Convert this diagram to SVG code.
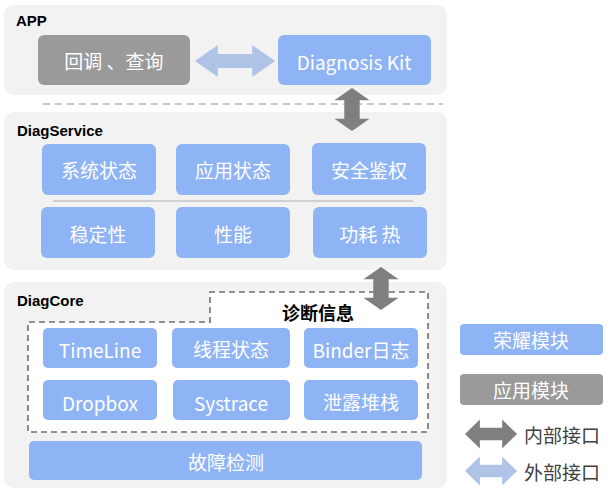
<svg xmlns="http://www.w3.org/2000/svg" width="610" height="492" viewBox="0 0 610 492">
<style>
.panel{fill:#f2f2f2}
.b{fill:#8fb4f5}
.g{fill:#9a9a9a}
.t{font-family:"Noto Sans CJK SC","Liberation Sans",sans-serif;font-size:19px;fill:#fff;text-anchor:middle;dominant-baseline:central}
.h{font-family:"Liberation Sans","Noto Sans CJK SC",sans-serif;font-size:15px;font-weight:bold;fill:#000}
.lg{font-family:"Noto Sans CJK SC",sans-serif;font-size:19px;fill:#404040;dominant-baseline:central}
</style>
<defs>
<path id="ha" d="M0,0 L16,-16 L16,-7 L40,-7 L40,-16 L56,0 L40,16 L40,7 L16,7 L16,16 Z"/>
</defs>
<rect width="610" height="492" fill="#fff"/>
<g id="app">
<rect class="panel" x="4" y="5" width="443" height="90" rx="10"/>
<text class="h" x="16" y="26">APP</text>
</g>
<g id="callback"><rect class="g" x="38" y="35" width="152" height="50" rx="6"/><text class="t" x="114" y="60">回调 、查询</text></g>
<g id="kit"><rect class="b" x="278" y="35" width="153" height="50" rx="6"/><text class="t" x="354" y="61">Diagnosis Kit</text></g>
<line x1="43" y1="104" x2="443" y2="104" stroke="#c8c8c8" stroke-width="2" stroke-dasharray="7,5"/>
<g id="diagservice">
<rect class="panel" x="4" y="112" width="443" height="158" rx="10"/>
<text class="h" x="17" y="136">DiagService</text>
<line x1="53" y1="201" x2="413" y2="201" stroke="#d0d0d0" stroke-width="2"/>
</g>
<g id="s1"><rect class="b" x="42" y="144" width="114" height="51" rx="6"/><text class="t" x="99" y="169">系统状态</text></g>
<g id="s2"><rect class="b" x="176" y="144" width="114" height="51" rx="6"/><text class="t" x="233" y="169">应用状态</text></g>
<g id="s3"><rect class="b" x="312" y="143" width="114" height="52" rx="6"/><text class="t" x="369" y="169">安全鉴权</text></g>
<g id="s4"><rect class="b" x="41" y="207" width="114" height="51" rx="6"/><text class="t" x="98" y="233">稳定性</text></g>
<g id="s5"><rect class="b" x="176" y="207" width="114" height="51" rx="6"/><text class="t" x="233" y="233">性能</text></g>
<g id="s6"><rect class="b" x="313" y="207" width="114" height="51" rx="6"/><text class="t" x="370" y="233">功耗 热</text></g>
<g id="diagcore">
<rect class="panel" x="4" y="282" width="443" height="206" rx="10"/>
<text class="h" x="17" y="306">DiagCore</text>
<path d="M210,323 L210,292 L428,292 L428,432 L28,432 L28,322 L210,322" fill="#fff" stroke="#707070" stroke-width="1.6" stroke-dasharray="6,4"/>
<text x="318" y="312" font-family="Noto Sans CJK SC,sans-serif" font-size="18" font-weight="bold" fill="#000" text-anchor="middle" dominant-baseline="central">诊断信息</text>
</g>
<g id="c1"><rect class="b" x="43" y="328" width="114" height="40" rx="5"/><text class="t" x="100" y="349">TimeLine</text></g>
<g id="c2"><rect class="b" x="172" y="328" width="118" height="40" rx="5"/><text class="t" x="231" y="348">线程状态</text></g>
<g id="c3"><rect class="b" x="304" y="328" width="114" height="40" rx="5"/><text class="t" x="361" y="349">Binder日志</text></g>
<g id="c4"><rect class="b" x="43" y="380" width="114" height="40" rx="5"/><text class="t" x="100" y="402">Dropbox</text></g>
<g id="c5"><rect class="b" x="173" y="380" width="117" height="40" rx="5"/><text class="t" x="231" y="402">Systrace</text></g>
<g id="c6"><rect class="b" x="304" y="380" width="114" height="40" rx="5"/><text class="t" x="361" y="401">泄露堆栈</text></g>
<g id="fault"><rect class="b" x="29" y="441" width="393" height="39" rx="5"/><text class="t" x="226" y="461">故障检测</text></g>
<g id="connectors">
<use href="#ha" transform="translate(195,61) scale(1.43,1)" fill="#aec3e6"/>
<use href="#ha" transform="translate(352,88) rotate(90) scale(0.77,1.1)" fill="#7f7f7f"/>
<use href="#ha" transform="translate(381,267) rotate(90) scale(0.77,1.1)" fill="#7f7f7f"/>
</g>
<g id="legend">
<rect class="b" x="460" y="324" width="143" height="31" rx="4"/><text class="t" x="531" y="339">荣耀模块</text>
<rect class="g" x="460" y="374" width="143" height="31" rx="4"/><text class="t" x="531" y="389">应用模块</text>
<use href="#ha" transform="translate(465,434) scale(0.93,0.9)" fill="#7f7f7f"/>
<text class="lg" x="524" y="434">内部接口</text>
<use href="#ha" transform="translate(465,471) scale(0.93,0.9)" fill="#aec3e6"/>
<text class="lg" x="524" y="471">外部接口</text>
</g>
</svg>
